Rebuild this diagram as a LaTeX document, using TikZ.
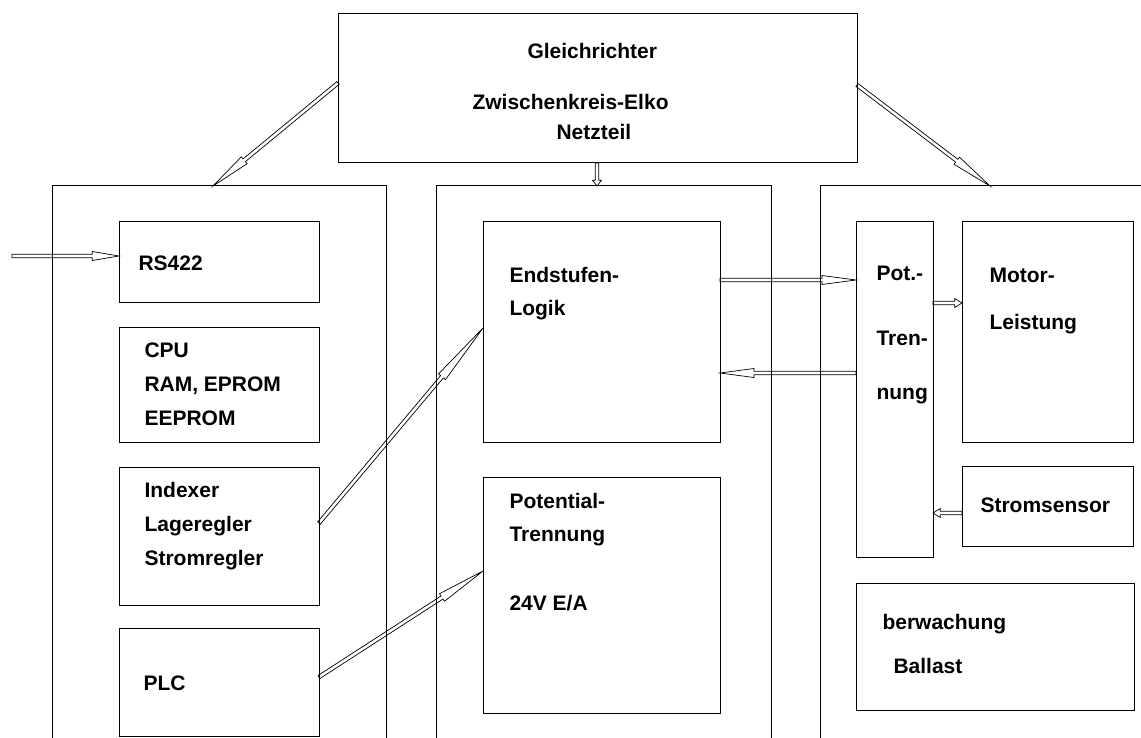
\documentclass[tikz,border=0pt]{standalone}
\usepackage{fontspec}
\setmainfont{Liberation Sans}
\usetikzlibrary{calc}
\begin{document}
\begin{tikzpicture}[x=1pt,y=-1pt,line width=1pt,
  box/.style={draw,anchor=north west,inner sep=0pt,outer sep=0pt},
  txt/.style={anchor=west,inner sep=0pt,text height=15pt,text depth=0pt,font=\bfseries\fontsize{21}{25}\selectfont},
  harrow/.style={line width=0.7pt,line join=miter,to path={
    let \p1=(\tikztostart), \p2=(\tikztotarget),
        \n1={veclen(\x2-\x1,\y2-\y1)}, \n2={atan2(\y2-\y1,\x2-\x1)}, \n3={0.75*\n1} in
    {[shift={(\p1)},rotate=\n2] (0,1.8) -- (\n3,1.8) -- (\n3,4.5) -- (\n1,0) -- (\n3,-4.5) -- (\n3,-1.8) -- (0,-1.8) -- cycle}}}
]
\clip (0,0) rectangle (1141,738);
% boxes
\node[box,minimum width=519pt,minimum height=149pt] (top) at (338,14) {};
\node[box,minimum width=334pt,minimum height=600pt] (lb) at (52,186) {};
\node[box,minimum width=335pt,minimum height=600pt] (mb) at (436,186) {};
\node[box,minimum width=360pt,minimum height=600pt] (rb) at (820,186) {};
\node[box,minimum width=200pt,minimum height=80pt] (rs) at (119,222) {};
\node[box,minimum width=200pt,minimum height=115pt] (cpu) at (119,327) {};
\node[box,minimum width=200pt,minimum height=138pt] (idx) at (119,467) {};
\node[box,minimum width=200pt,minimum height=108pt] (plc) at (119,628) {};
\node[box,minimum width=237pt,minimum height=220pt] (end) at (483,222) {};
\node[box,minimum width=237pt,minimum height=236pt] (pot) at (483,477) {};
\node[box,minimum width=77pt,minimum height=335pt] (ptr) at (856,222) {};
\node[box,minimum width=171pt,minimum height=220pt] (mot) at (962,222) {};
\node[box,minimum width=171pt,minimum height=80pt] (str) at (962,466) {};
\node[box,minimum width=278pt,minimum height=127pt] (ueb) at (856,583) {};
% texts
\node[txt] (t1) at (527,51) {Gleichrichter};
\node[txt] (t2) at (472,102) {Zwischenkreis-Elko};
\node[txt] (t3) at (556,132) {Netzteil};
\node[txt] (t4) at (138,263) {RS422};
\node[txt] (t5) at (144,350) {CPU};
\node[txt] (t6) at (144,384) {RAM, EPROM};
\node[txt] (t7) at (144,418) {EEPROM};
\node[txt] (t8) at (144,490) {Indexer};
\node[txt] (t9) at (144,524) {Lageregler};
\node[txt] (t10) at (144,558) {Stromregler};
\node[txt] (t11) at (143,683) {PLC};
\node[txt] (t12) at (509,275) {Endstufen-};
\node[txt] (t13) at (509,308) {Logik};
\node[txt] (t14) at (509,501) {Potential-};
\node[txt] (t15) at (509,534) {Trennung};
\node[txt] (t16) at (509,603) {24V E/A};
\node[txt] (t17) at (876,273) {Pot.-};
\node[txt] (t18) at (876,338) {Tren-};
\node[txt] (t19) at (876,392) {nung};
\node[txt] (t20) at (989,275) {Motor-};
\node[txt] (t21) at (989,322) {Leistung};
\node[txt] (t22) at (980,505) {Stromsensor};
\node[txt] (t23) at (882,622) {berwachung};
\node[txt] (t24) at (893,666) {Ballast};
% arrows
\coordinate (in) at (12,256);
\draw[harrow] ($(top.north west)+(0,69)$) to ($(lb.north west)+(161,0)$);
\draw[harrow] ($(top.north east)+(0,71)$) to ($(rb.north west)+(170,0)$);
\draw[harrow] ($(top.south)+(-0.5,0)$) to ($(mb.north)+(-6.5,0)$);
\draw[harrow] (in) to ($(rs.west)+(0,-6)$);
\draw[harrow] ($(end.east)+(0,-52)$) to ($(ptr.west)+(0,-109.5)$);
\draw[harrow] ($(ptr.west)+(0,-16.5)$) to ($(end.east)+(0,41)$);
\draw[harrow] ($(ptr.east)+(0,-86.5)$) to ($(mot.west)+(0,-29)$);
\draw[harrow] ($(str.west)+(0,7)$) to ($(ptr.east)+(0,123.5)$);
\draw[harrow] ($(idx.east)+(0,-13)$) to ($(end.west)+(0,-4)$);
\draw[harrow] ($(plc.east)+(0,-5)$) to ($(pot.west)+(0,-24)$);
\end{tikzpicture}
\end{document}
